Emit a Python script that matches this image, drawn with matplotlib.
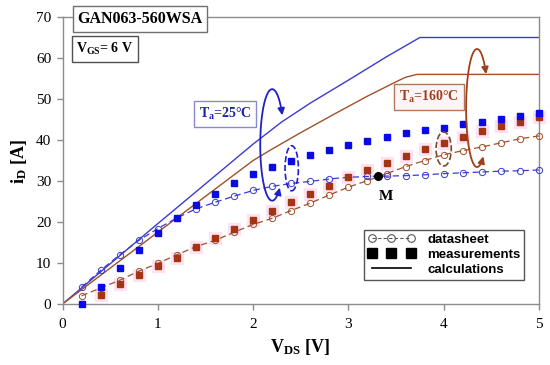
import numpy as np
import matplotlib
matplotlib.use("Agg")
import matplotlib.pyplot as plt
from matplotlib.lines import Line2D
from matplotlib.patches import Ellipse, FancyArrowPatch
from matplotlib.path import Path

# ---- data ----
vds = [0.2, 0.4, 0.6, 0.8, 1.0, 1.2, 1.4, 1.6, 1.8, 2.0, 2.2, 2.4, 2.6,
       2.8, 3.0, 3.2, 3.4, 3.6, 3.8, 4.0, 4.2, 4.4, 4.6, 4.8, 5.0]

# datasheet curves (open circles, dashed)
ds_25 = [4.1, 8.2, 12.0, 15.5, 18.4, 21.0, 23.2, 24.8, 26.3, 27.7, 28.7, 29.4, 29.9,
         30.5, 30.9, 31.1, 31.2, 31.3, 31.5, 31.8, 32.0, 32.2, 32.4, 32.5, 32.7]
ds_160 = [2.0, 3.9, 5.8, 8.0, 9.9, 12.0, 14.0, 15.5, 17.5, 19.4, 20.9, 22.8, 24.6,
          26.6, 28.5, 30.1, 31.8, 33.5, 35.0, 36.4, 37.4, 38.3, 39.3, 40.3, 41.0]

# measurements (squares)
meas_25 = [0.0, 4.2, 8.9, 13.1, 17.2, 20.9, 24.1, 26.9, 29.5, 31.6, 33.5, 35.0, 36.4,
           37.6, 38.8, 39.8, 40.8, 41.6, 42.4, 43.0, 43.9, 44.5, 45.1, 45.8, 46.5]
vds_160m = vds[1:]
meas_160 = [2.3, 4.8, 7.0, 9.3, 11.1, 13.9, 16.2, 18.4, 20.6, 22.6, 24.8, 26.9,
            28.9, 30.9, 32.7, 34.4, 36.2, 37.8, 39.2, 40.8, 42.1, 43.3, 44.5, 45.6]

# calculations (solid lines)
calc_25_x = [0, 1.0, 2.0, 2.3, 2.6, 3.0, 3.4, 3.75, 5.0]
calc_25_y = [0, 19.6, 39.0, 44.4, 49.0, 54.6, 60.3, 65.0, 65.0]
calc_160_x = [0, 1.0, 2.0, 2.2, 2.5, 2.85, 3.2, 3.5, 3.6, 3.72, 5.0]
calc_160_y = [0, 17.5, 35.0, 37.8, 41.8, 46.3, 50.7, 54.2, 55.3, 56.0, 56.0]

m_point = (3.31, 31.1)

BLUE = "#0a0ae6"
BLUE_LINE = "#3b3bcf"
BROWN = "#a0502a"
BROWN_SQ = "#a33514"
PINK = "#fde3f2"

plt.rcParams["font.family"] = "Liberation Serif"
plt.rcParams["mathtext.fontset"] = "custom"
plt.rcParams["mathtext.bf"] = "Liberation Serif:bold"
plt.rcParams["mathtext.rm"] = "Liberation Serif:bold"
plt.rcParams["mathtext.default"] = "bf"

W, H = 550, 365
fig = plt.figure(figsize=(5.5, 3.65), dpi=100)
ax = fig.add_axes([62.5 / W, 61 / H, 476.5 / W, 287 / H])


def fpx(x, y):
    return x / W, 1 - y / H


# calculations
ax.plot(calc_25_x, calc_25_y, color=BLUE_LINE, lw=1.0, zorder=2)
ax.plot(calc_160_x, calc_160_y, color=BROWN, lw=1.0, zorder=2)

# datasheet
ax.plot(vds, ds_160, color=BROWN, ls=(0, (5, 3)), lw=0.9, marker="o", ms=4.5,
        mfc="none", mew=0.7, zorder=3, clip_on=False)
ax.plot(vds, ds_25, color=BLUE_LINE, ls=(0, (5, 3)), lw=0.9, marker="o", ms=4.5,
        mfc="none", mew=0.7, zorder=3, clip_on=False)

# measurements
ax.plot(vds_160m, meas_160, ls="none", marker="s", ms=9, color=PINK, zorder=1,
        clip_on=False)
ax.plot(vds_160m, meas_160, ls="none", marker="s", ms=5, color=BROWN_SQ, zorder=4,
        clip_on=False)
ax.plot(vds, meas_25, ls="none", marker="s", ms=5, color=BLUE, zorder=4,
        clip_on=False)

# intersection point M
ax.plot(*m_point, marker="o", ms=5.5, color="black", zorder=5)

ax.set_xlim(0, 5)
ax.set_ylim(0, 70)
ax.set_xticks(range(0, 6))
ax.set_yticks(range(0, 80, 10))
for s in ax.spines.values():
    s.set_color("#8c8c8c")
    s.set_linewidth(1.0)
ax.tick_params(direction="out", length=4, width=1.0, color="#8c8c8c",
               labelsize=11, pad=4)
ax.tick_params(axis="x", pad=6)

fig.text(*fpx(19, 162), r"i$_D$ [A]", rotation=90, ha="center", va="center",
         fontsize=13, fontweight="bold")
fig.text(*fpx(300, 347), r"V$_{DS}$ [V]", ha="center", va="center",
         fontsize=13, fontweight="bold")

# text boxes
fig.text(*fpx(140, 19), "GAN063-560WSA", ha="center", va="center", fontsize=11.5,
         fontweight="bold", zorder=10,
         bbox=dict(boxstyle="square,pad=0.3", fc="white", ec="#707070", lw=1))
fig.text(*fpx(105, 49), r"V$_{GS}$= 6 V", ha="center", va="center", fontsize=10,
         fontweight="bold",
         bbox=dict(boxstyle="square,pad=0.35", fc="white", ec="#505050", lw=1))
fig.text(*fpx(225, 114), r"T$_a$=25°C", ha="center", va="center", fontsize=10,
         fontweight="bold", color="#1f1fb0",
         bbox=dict(boxstyle="square,pad=0.35", fc="white", ec="#8a8ad0", lw=1))
fig.text(*fpx(429, 97), r"T$_a$=160°C", ha="center", va="center", fontsize=10,
         fontweight="bold", color="#a0401a",
         bbox=dict(boxstyle="square,pad=0.35", fc="#fff5f8", ec="#b07a5a", lw=1))
ax.text(3.39, 26.2, "M", ha="center", va="center", fontsize=11, fontweight="bold")


# loop arrows
def loop(cx, cy, hw, hh, t0, t1, color):
    th = np.radians(np.linspace(t0, t1, 80))
    verts = np.column_stack([cx + hw * np.cos(th), cy + hh * np.sin(th)])
    arr = FancyArrowPatch(path=Path(verts), arrowstyle="<|-|>,head_length=4,head_width=2",
                          color=color, lw=1.3, zorder=6)
    ax.add_patch(arr)


loop(2.2, 38.8, 0.125, 13.6, 32, 310, "#2020c8")
loop(4.35, 47.8, 0.115, 14.4, 35, 305, "#a0401a")

ax.add_patch(Ellipse((2.405, 33.1), 0.14, 11.0, fill=False, ls="--", lw=1.2,
                     ec="#2020c8", zorder=6))
ax.add_patch(Ellipse((4.0, 37.8), 0.16, 8.3, fill=False, ls="--", lw=1.2,
                     ec="#7a4a2a", zorder=6))

# legend
handles = [
    Line2D([], [], color="#555555", ls=(0, (3, 2)), lw=0.8, marker="o", ms=5.5,
           mfc="none", mew=0.8),
    Line2D([], [], color="black", ls="none", marker="s", ms=6.5),
    Line2D([], [], color="black", lw=1.2),
]
leg = ax.legend(handles, ["datasheet", "measurements", "calculations"],
                loc="lower right", bbox_to_anchor=(0.983, 0.062), numpoints=3,
                handlelength=3.6, labelspacing=0.2, borderpad=0.3,
                handletextpad=0.9, fancybox=False, framealpha=1,
                prop=dict(family="Liberation Sans", weight="bold", size=9.5))
leg.get_frame().set_edgecolor("#555555")
leg.get_frame().set_linewidth(1.0)

fig.savefig("out.png", dpi=100)
